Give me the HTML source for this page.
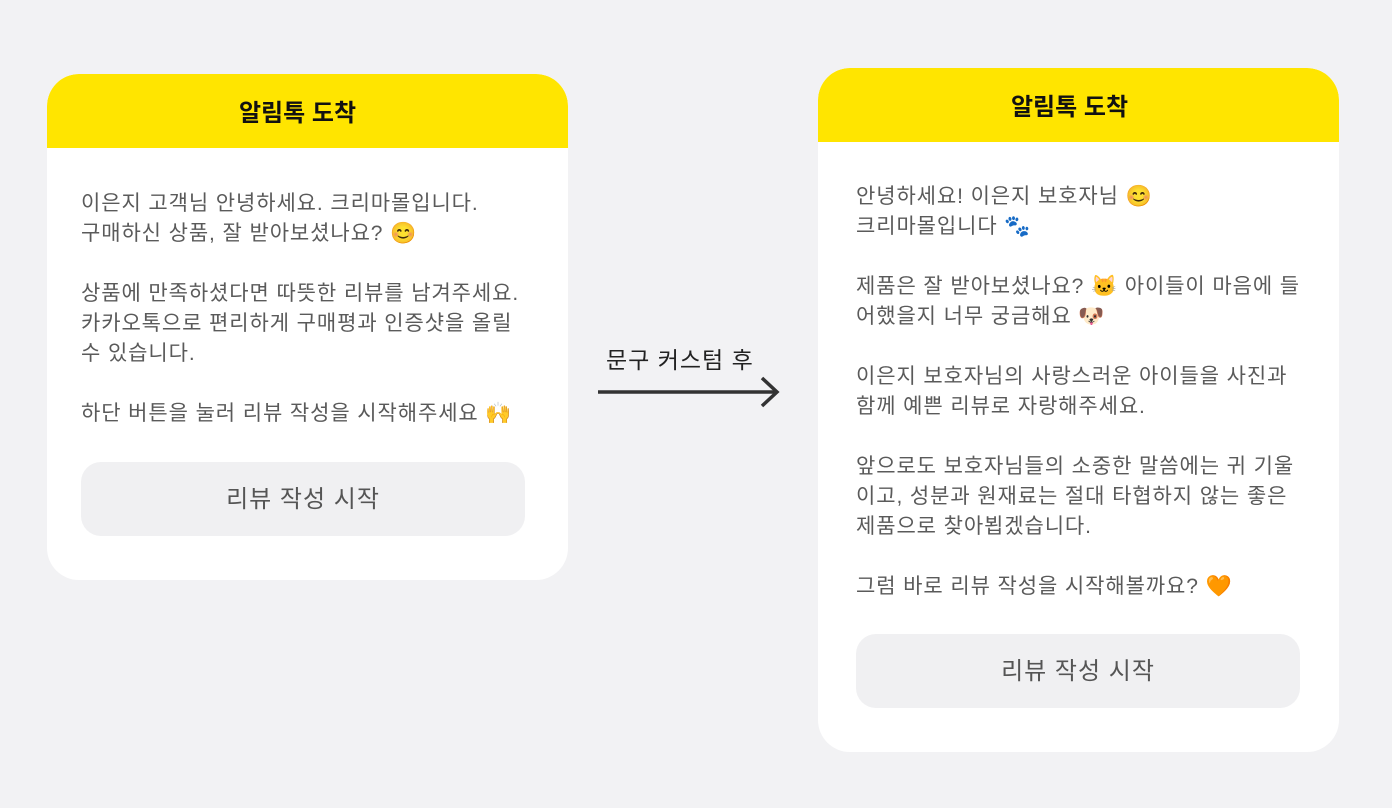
<!DOCTYPE html>
<html><head><meta charset="utf-8"><style>
*{margin:0;padding:0;box-sizing:border-box}
body{width:1392px;height:808px;background:#f2f2f4;position:relative;overflow:hidden;font-family:"Liberation Sans","Noto Sans CJK KR",sans-serif}
.card{position:absolute;background:#fff;border-radius:32px;overflow:hidden}
.hd{position:absolute;left:0;top:0;right:0;height:74px;background:#ffe500;text-align:center;font-weight:bold;font-size:24px;line-height:80px;color:#111;border-radius:32px 32px 0 0;padding-right:20px}
.tx{position:absolute;font-size:21px;letter-spacing:0.9px;line-height:30px;color:#5a5a5a;white-space:pre}
.btn{position:absolute;background:#f0f0f2;border-radius:20px;text-align:center;font-size:24px;letter-spacing:1px;line-height:76px;color:#555;height:74px;width:444px}
</style></head><body>
<div class="card" style="left:47px;top:74px;width:521px;height:506px">
<div class="hd">알림톡 도착</div>
<div class="tx" style="left:34px;top:115px">이은지 고객님 안녕하세요. 크리마몰입니다.
구매하신 상품, 잘 받아보셨나요? 😊

상품에 만족하셨다면 따뜻한 리뷰를 남겨주세요.
카카오톡으로 편리하게 구매평과 인증샷을 올릴
수 있습니다.

하단 버튼을 눌러 리뷰 작성을 시작해주세요 🙌</div>
<div class="btn" style="left:34px;top:388px">리뷰 작성 시작</div>
</div>
<div style="position:absolute;left:606px;top:341px;font-size:23px;letter-spacing:1px;color:#222">문구 커스텀 후</div>
<svg style="position:absolute;left:590px;top:370px" width="200" height="44"><line x1="8" y1="22" x2="186" y2="22" stroke="#333" stroke-width="3.5"/><polyline points="172,8 187,22 172,36" fill="none" stroke="#333" stroke-width="3.5"/></svg>
<div class="card" style="left:818px;top:68px;width:521px;height:684px">
<div class="hd" style="padding-right:18px">알림톡 도착</div>
<div class="tx" style="left:38px;top:114px">안녕하세요! 이은지 보호자님 😊
크리마몰입니다 🐾

제품은 잘 받아보셨나요? 🐱 아이들이 마음에 들
어했을지 너무 궁금해요 🐶

이은지 보호자님의 사랑스러운 아이들을 사진과
함께 예쁜 리뷰로 자랑해주세요.

앞으로도 보호자님들의 소중한 말씀에는 귀 기울
이고, 성분과 원재료는 절대 타협하지 않는 좋은
제품으로 찾아뵙겠습니다.

그럼 바로 리뷰 작성을 시작해볼까요? 🧡</div>
<div class="btn" style="left:38px;top:566px">리뷰 작성 시작</div>
</div>
</body></html>
